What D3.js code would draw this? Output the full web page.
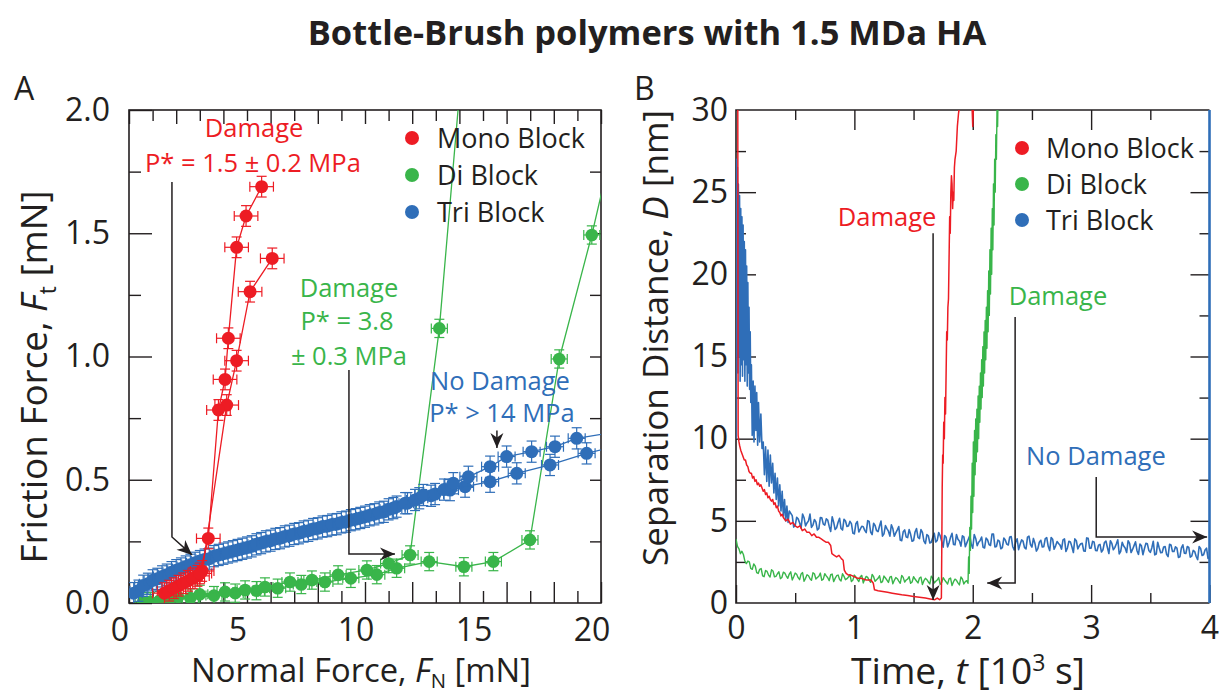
<!DOCTYPE html>
<html><head><meta charset="utf-8">
<script src="https://cdn.jsdelivr.net/npm/d3@7"></script>
<style>
body{margin:0;background:#fff;}
svg{display:block;}
</style></head><body>
<svg id="chart" width="1221" height="695"></svg>
<script>
// ---------------- DATA ----------------
const chartTitle = "Bottle-Brush polymers with 1.5 MDa HA";
const seriesNames = ["Mono Block", "Di Block", "Tri Block"];

// Panel A: tick labels
const aXTicks = [0, 5, 10, 15, 20];
const aYTicks = [0, 0.5, 1.0, 1.5, 2.0];
// Panel B: tick labels
const bXTicks = [0, 1, 2, 3, 4];
const bYTicks = [0, 5, 10, 15, 20, 25, 30];

// Panel A: [normal force mN, friction force mN]
const monoA1 = [[1.5,0.04],[1.9,0.06],[2.3,0.08],[2.7,0.1],[3.0,0.12],[3.36,0.262],[3.79,0.783],[4.07,0.907],[4.21,1.074],[4.56,1.443],[4.96,1.57],[5.62,1.689]];
const monoA2 = [[1.7,0.05],[2.1,0.07],[2.5,0.09],[2.9,0.11],[3.1,0.13],[4.14,0.803],[4.56,0.983],[5.13,1.263],[6.07,1.398]];
const diA1 = [[0.6,0.005],[1.3,0.01],[2.08,0.024],[3.0,0.035],[4.07,0.045],[4.92,0.053],[5.76,0.065],[6.82,0.085],[7.75,0.093],[8.86,0.114],[10.08,0.134],[11.0,0.16],[11.91,0.195],[13.15,1.114],[14.3,2.4]];
const diA2 = [[0.9,0.005],[1.7,0.012],[2.6,0.02],[3.6,0.03],[4.5,0.04],[5.4,0.05],[6.3,0.06],[7.3,0.075],[8.3,0.085],[9.4,0.1],[10.5,0.115],[11.34,0.141],[12.72,0.168],[14.19,0.147],[15.44,0.168],[16.99,0.256],[18.23,0.99],[19.61,1.493],[20.6,1.9]];
const triA1 = [[0.2,0.04],[0.6,0.07],[1.0,0.092],[1.4,0.108],[1.8,0.125],[2.2,0.14],[2.6,0.155],[3.0,0.17],[3.4,0.18],[3.8,0.195],[4.2,0.205],[4.6,0.215],[5.0,0.225],[5.4,0.238],[5.8,0.25],[6.2,0.26],[6.6,0.27],[7.0,0.28],[7.4,0.29],[7.8,0.3],[8.2,0.31],[8.6,0.318],[9.0,0.327],[9.4,0.336],[9.8,0.345],[10.2,0.356],[10.6,0.367],[11.0,0.38],[11.34,0.391],[11.7,0.405],[12.12,0.418],[12.47,0.438],[12.97,0.442],[13.35,0.46],[13.74,0.486],[14.38,0.512],[15.3,0.553],[16.0,0.594],[17.06,0.614],[18.05,0.634],[18.97,0.668],[20.4,0.69]];
const triA2 = [[20.4,0.63],[19.39,0.607],[17.84,0.56],[16.43,0.526],[15.3,0.492],[14.24,0.472],[13.6,0.458],[12.8,0.435],[12.3,0.425],[11.8,0.405],[11.2,0.385],[10.8,0.37],[10.4,0.36],[10.0,0.35],[9.6,0.34],[9.2,0.33],[8.8,0.32],[8.4,0.312],[8.0,0.303],[7.6,0.293],[7.2,0.283],[6.8,0.273],[6.4,0.263],[6.0,0.253],[5.6,0.243],[5.2,0.23],[4.8,0.22],[4.4,0.21],[4.0,0.2],[3.6,0.19],[3.2,0.176],[2.8,0.163],[2.4,0.148],[2.0,0.133],[1.6,0.115],[1.2,0.098],[0.8,0.078],[0.4,0.05]];
// error bar half-widths [x, y] per series
const monoErrA = [0.5, 0.042];
const diErrA = [0.34, 0.037];
const triErrA = [0.36, 0.043];

// Panel B: [time 10^3 s, separation nm]
const monoB = [[0.015,31],[0.018,10.2],[0.025,9.8],[0.03,9.6],[0.04,9.3],[0.05,9.1],[0.06,8.9],[0.07,8.7],[0.08,8.7],[0.09,8.4],[0.1,8.3],[0.11,8.0],[0.12,7.9],[0.13,7.9],[0.14,7.6],[0.15,7.7],[0.16,7.4],[0.17,7.5],[0.18,7.2],[0.19,7.3],[0.2,7.1],[0.21,7.2],[0.22,7.0],[0.23,6.8],[0.24,6.9],[0.25,6.6],[0.26,6.7],[0.27,6.4],[0.28,6.5],[0.29,6.3],[0.3,6.2],[0.31,6.3],[0.32,6.0],[0.33,6.1],[0.34,5.8],[0.35,5.9],[0.36,5.6],[0.37,5.5],[0.38,5.3],[0.39,5.4],[0.4,5.2],[0.42,5.0],[0.44,5.1],[0.46,4.8],[0.48,4.9],[0.5,4.7],[0.52,4.6],[0.54,4.7],[0.56,4.4],[0.58,4.5],[0.6,4.3],[0.62,4.3],[0.64,4.1],[0.66,4.2],[0.68,4.0],[0.7,4.0],[0.72,3.9],[0.74,3.8],[0.76,3.7],[0.78,3.7],[0.8,3.5],[0.81,3.0],[0.83,2.9],[0.85,2.8],[0.87,2.9],[0.89,2.7],[0.905,2.6],[0.915,2.0],[0.93,1.8],[0.95,1.7],[0.97,1.7],[1.0,1.6],[1.03,1.5],[1.06,1.5],[1.1,1.4],[1.14,1.4],[1.16,1.2],[1.17,0.8],[1.2,0.75],[1.24,0.7],[1.28,0.65],[1.32,0.6],[1.36,0.55],[1.4,0.5],[1.45,0.45],[1.5,0.4],[1.55,0.35],[1.6,0.3],[1.64,0.25],[1.68,0.2],[1.7,0.3],[1.72,0.2],[1.735,0.3],[1.738,3],[1.742,7],[1.746,9],[1.75,8.5],[1.755,11],[1.76,10],[1.765,12.5],[1.77,11.5],[1.775,14],[1.78,16.5],[1.785,16],[1.79,18],[1.795,18.5],[1.8,21],[1.805,23.5],[1.81,22.5],[1.815,25],[1.82,26],[1.825,25.5],[1.83,24],[1.835,25],[1.84,24.5],[1.845,26.5],[1.85,27],[1.86,27.5],[1.87,29],[1.88,29.8],[1.89,30.3],[1.9,31],[1.99,31],[2.0,29],[2.01,31]];
const diB = [[0,3.9],[0.025,3.3],[0.05,3.15],[0.075,2.55],[0.1,2.55],[0.125,2.1],[0.15,2.38],[0.175,1.85],[0.2,2.05],[0.225,1.65],[0.25,1.98],[0.275,1.7],[0.3,2.02],[0.325,1.6],[0.35,1.78],[0.375,1.48],[0.4,1.88],[0.425,1.64],[0.45,1.76],[0.475,1.4],[0.5,1.82],[0.525,1.54],[0.55,1.77],[0.575,1.32],[0.6,1.72],[0.625,1.48],[0.65,1.84],[0.675,1.46],[0.7,1.63],[0.725,1.38],[0.75,1.78],[0.775,1.54],[0.8,1.72],[0.825,1.3],[0.85,1.66],[0.875,1.43],[0.9,1.78],[0.925,1.42],[0.95,1.58],[0.975,1.3],[1.0,1.7],[1.025,1.44],[1.05,1.6],[1.075,1.22],[1.1,1.62],[1.125,1.38],[1.15,1.74],[1.175,1.32],[1.2,1.5],[1.225,1.24],[1.25,1.64],[1.275,1.39],[1.3,1.57],[1.325,1.17],[1.35,1.55],[1.375,1.33],[1.4,1.68],[1.425,1.27],[1.45,1.45],[1.475,1.2],[1.5,1.6],[1.525,1.34],[1.55,1.52],[1.575,1.12],[1.6,1.5],[1.625,1.28],[1.65,1.63],[1.675,1.22],[1.7,1.4],[1.725,1.14],[1.75,1.54],[1.775,1.28],[1.8,1.47],[1.825,1.06],[1.85,1.45],[1.875,1.22],[1.9,1.58],[1.925,1.16],[1.95,1.36],[1.96,1.2],[1.965,2.8],[1.97,1.8],[1.975,4.6],[1.98,3.2],[1.985,6.5],[1.99,4.5],[1.995,8.5],[2.0,5.5],[2.005,9.8],[2.01,6.5],[2.015,10.5],[2.02,7.8],[2.025,11.2],[2.03,8.6],[2.035,11.8],[2.04,9.2],[2.045,12.6],[2.05,10.0],[2.055,13.2],[2.06,11.0],[2.065,14.0],[2.07,11.8],[2.075,14.8],[2.08,12.5],[2.085,15.6],[2.09,13.2],[2.095,16.5],[2.1,14.0],[2.105,17.2],[2.11,14.8],[2.115,18.0],[2.12,15.5],[2.125,19.0],[2.13,16.5],[2.135,20.2],[2.14,17.5],[2.145,21.5],[2.15,18.8],[2.155,22.8],[2.16,20.0],[2.165,24.0],[2.17,21.5],[2.175,25.5],[2.18,23.0],[2.185,27.0],[2.19,25.0],[2.195,28.5],[2.2,27.0],[2.205,30.2],[2.21,29.0],[2.215,31.5]];
// extra readings of the Di Block trace between the samples above
const diBmid = [[0.0125,3.45],[0.0375,3.0],[0.0625,2.95],[0.0875,2.4],[0.1125,2.5],[0.1375,2.05],[0.1625,2.25],[0.1875,1.8],[0.2125,2.1],[0.2375,1.6],[0.2625,1.92],[0.2875,1.58],[0.3125,1.95],[0.3375,1.62],[0.3625,1.9],[0.3875,1.55],[0.4125,1.82],[0.4375,1.5],[0.4625,1.9],[0.4875,1.6],[0.5125,1.75],[0.5375,1.42],[0.5625,1.85],[0.5875,1.5],[0.6125,1.66],[0.6375,1.38],[0.6625,1.78],[0.6875,1.55],[0.7125,1.82],[0.7375,1.45],[0.7625,1.65],[0.7875,1.36],[0.8125,1.76],[0.8375,1.5],[0.8625,1.7],[0.8875,1.34],[0.9125,1.62],[0.9375,1.48],[0.9625,1.72],[0.9875,1.4],[1.0125,1.58],[1.0375,1.3],[1.0625,1.68],[1.0875,1.44],[1.1125,1.56],[1.1375,1.26],[1.1625,1.6],[1.1875,1.42],[1.2125,1.66],[1.2375,1.3],[1.2625,1.52],[1.2875,1.25],[1.3125,1.62],[1.3375,1.38],[1.3625,1.48],[1.3875,1.2],[1.4125,1.56],[1.4375,1.4],[1.4625,1.6],[1.4875,1.28],[1.5125,1.46],[1.5375,1.22],[1.5625,1.58],[1.5875,1.36],[1.6125,1.42],[1.6375,1.16],[1.6625,1.5],[1.6875,1.32],[1.7125,1.55],[1.7375,1.24],[1.7625,1.4],[1.7875,1.15],[1.8125,1.52],[1.8375,1.3],[1.8625,1.38],[1.8875,1.1],[1.9125,1.46],[1.9375,1.3]];
const triB = [[0.0,10],[0.004,27],[0.008,15],[0.012,26.5],[0.016,14],[0.02,25.5],[0.025,15],[0.03,24.8],[0.035,13.5],[0.04,24],[0.045,14.5],[0.05,23.5],[0.055,13.8],[0.06,23],[0.065,14.8],[0.07,22],[0.075,13.5],[0.08,21.5],[0.085,14.5],[0.09,20.5],[0.095,13.2],[0.1,19.5],[0.105,14],[0.11,18],[0.115,13],[0.12,16.5],[0.125,12.2],[0.13,14.5],[0.137,10.2],[0.145,13.5],[0.152,9.8],[0.16,13.2],[0.168,10.5],[0.175,12.8],[0.183,9.6],[0.19,12.2],[0.2,9.8],[0.21,11.5],[0.22,9.4],[0.23,9.8],[0.24,7.8],[0.25,9.5],[0.26,7.4],[0.27,9.3],[0.28,7.1],[0.29,9.0],[0.3,7.3],[0.31,8.5],[0.32,6.7],[0.33,7.9],[0.34,6.3],[0.35,7.6],[0.36,5.9],[0.37,7.2],[0.38,5.6],[0.39,6.8],[0.4,5.3],[0.41,6.3],[0.42,5.0],[0.43,5.9],[0.44,4.9],[0.45,5.6],
[0.475,5.32],[0.5,4.72],[0.525,5.12],[0.55,4.57],[0.575,5.19],[0.6,4.87],[0.625,5.41],[0.65,4.74],[0.675,4.94],[0.7,4.54],[0.725,5.18],[0.75,4.74],[0.775,5.04],[0.8,4.35],[0.825,4.92],[0.85,4.58],[0.875,5.16],[0.9,4.44],[0.925,4.99],[0.95,4.68],[0.975,4.83],[1.0,4.21],[1.025,4.96],[1.05,4.49],[1.075,4.64],[1.1,4.28],[1.125,4.96],[1.15,4.16],[1.175,4.72],[1.2,4.34],[1.225,4.99],[1.25,4.21],[1.275,4.53],[1.3,4.07],[1.325,4.53],[1.35,4.27],[1.375,4.65],[1.4,3.79],[1.425,4.45],[1.45,3.98],[1.475,4.18],[1.5,3.8],[1.525,4.53],[1.55,3.92],[1.575,4.3],[1.6,3.61],[1.625,4.09],[1.65,3.7],[1.675,4.24],[1.7,3.81],[1.725,4.09],[1.75,3.4],[1.775,4.0],[1.8,3.67],[1.825,4.24],[1.85,3.54],[1.875,3.88],[1.9,3.46],[1.925,4.02],[1.95,3.66],[1.975,4.11],[2.0,3.33],[2.025,3.93],[2.05,3.7],[2.075,4.01],[2.1,3.35],[2.125,3.85],[2.15,3.5],[2.175,4.2],[2.2,3.44],[2.225,3.77],[2.25,3.37],[2.275,3.84],[2.3,3.53],[2.325,4.04],[2.35,3.23],[2.375,3.91],[2.4,3.58],[2.425,3.76],[2.45,3.29],[2.475,4.07],[2.5,3.4],[2.525,3.64],[2.55,3.31],[2.575,3.82],[2.6,3.43],[2.625,3.98],[2.65,3.19],[2.675,3.88],[2.7,3.48],[2.725,3.62],[2.75,3.28],[2.775,3.9],[2.8,3.35],[2.825,3.72],[2.85,3.07],[2.875,3.79],[2.9,3.48],[2.925,3.63],[2.95,3.15],[2.975,3.94],[3.0,3.34],[3.025,3.71],[3.05,3.18],[3.075,3.57],[3.1,3.24],[3.125,3.77],[3.15,3.01],[3.175,3.63],[3.2,3.37],[3.225,3.85],[3.25,3.15],[3.275,3.47],[3.3,3.07],[3.325,3.63],[3.35,3.26],[3.375,3.72],[3.4,2.96],[3.425,3.48],[3.45,3.3],[3.475,3.6],[3.5,3.08],[3.525,3.76],[3.55,2.98],[3.575,3.36],[3.6,3.07],[3.625,3.44],[3.65,2.82],[3.675,3.53],[3.7,3.14],[3.725,3.34],[3.75,2.81],[3.775,3.54],[3.8,3.01],[3.825,3.38],[3.85,2.85],[3.875,3.13],[3.9,2.64],[3.925,3.32],[3.95,2.93],[3.975,3.34],[4.0,2.8]];
// extra readings of the Tri Block trace between the samples above
const triBmid = [[0.4875,4.62],[0.5125,5.21],[0.5375,4.87],[0.5625,5.42],[0.5875,4.69],[0.6125,5.0],[0.6375,4.6],[0.6625,5.08],[0.6875,4.44],[0.7125,5.2],[0.7375,4.8],[0.7625,5.12],[0.7875,4.66],[0.8125,5.25],[0.8375,4.47],[0.8625,4.91],[0.8875,4.53],[0.9125,5.1],[0.9375,4.66],[0.9625,4.97],[0.9875,4.25],[1.0125,4.82],[1.0375,4.32],[1.0625,4.67],[1.0875,4.42],[1.1125,5.01],[1.1375,4.32],[1.1625,4.85],[1.1875,4.4],[1.2125,4.69],[1.2375,4.07],[1.2625,4.71],[1.2875,4.37],[1.3125,4.76],[1.3375,4.06],[1.3625,4.45],[1.3875,3.83],[1.4125,4.33],[1.4375,4.02],[1.4625,4.47],[1.4875,3.76],[1.5125,4.32],[1.5375,3.99],[1.5625,4.47],[1.5875,3.76],[1.6125,4.16],[1.6375,3.65],[1.6625,4.0],[1.6875,3.71],[1.7125,4.29],[1.7375,3.76],[1.7625,4.11],[1.7875,3.41],[1.8125,4.0],[1.8375,3.56],[1.8625,4.17],[1.8875,3.77],[1.9125,4.09],[1.9375,3.42],[1.9625,3.88],[1.9875,3.57],[2.0125,4.17],[2.0375,3.49],[2.0625,3.81],[2.0875,3.39],[2.1125,3.95],[2.1375,3.56],[2.1625,4.19],[2.1875,3.41],[2.2125,3.83],[2.2375,3.3],[2.2625,3.95],[2.2875,3.58],[2.3125,4.02],[2.3375,3.44],[2.3625,3.7],[2.3875,3.25],[2.4125,3.84],[2.4375,3.37],[2.4625,4.01],[2.4875,3.56],[2.5125,3.93],[2.5375,3.16],[2.5625,3.7],[2.5875,3.41],[2.6125,3.92],[2.6375,3.45],[2.6625,3.99],[2.6875,3.27],[2.7125,3.74],[2.7375,3.52],[2.7625,3.84],[2.7875,3.13],[2.8125,3.76],[2.8375,3.42],[2.8625,3.9],[2.8875,3.29],[2.9125,3.61],[2.9375,3.17],[2.9625,3.96],[2.9875,3.34],[3.0125,3.75],[3.0375,3.2],[3.0625,3.52],[3.0875,3.1],[3.1125,3.68],[3.1375,3.38],[3.1625,3.79],[3.1875,3.24],[3.2125,3.59],[3.2375,2.99],[3.2625,3.69],[3.2875,3.35],[3.3125,3.79],[3.3375,3.07],[3.3625,3.49],[3.3875,3.18],[3.4125,3.59],[3.4375,2.94],[3.4625,3.63],[3.4875,3.2],[3.5125,3.35],[3.5375,2.93],[3.5625,3.7],[3.5875,3.06],[3.6125,3.41],[3.6375,2.96],[3.6625,3.57],[3.6875,3.13],[3.7125,3.42],[3.7375,2.77],[3.7625,3.35],[3.7875,3.03],[3.8125,3.44],[3.8375,2.79],[3.8625,3.2],[3.8875,2.83],[3.9125,3.44],[3.9375,2.89],[3.9625,3.22],[3.9875,2.71]];

// ---------------- DRAWING ----------------
const FONT = '"Open Sans", "Noto Sans", sans-serif';
const INK = "#231f20";
const COL = ["#ed1c24", "#39b54a", "#2f6eb8"];

const svg = d3.select("#chart").attr("font-family", FONT);
const defs = svg.append("defs");
defs.append("marker").attr("id", "ah").attr("viewBox", "-16 -8 17 16")
  .attr("refX", 0).attr("refY", 0).attr("markerWidth", 17).attr("markerHeight", 16)
  .attr("markerUnits", "userSpaceOnUse").attr("orient", "auto")
  .append("path").attr("d", "M0,0 L-15,-6.5 L-10.5,0 L-15,6.5 Z").attr("fill", INK);

function fit(sel, target) {
  const w = sel.node().getComputedTextLength();
  const fs = parseFloat(sel.attr("font-size"));
  sel.attr("font-size", fs * target / w);
}

// Title
const title = svg.append("text").attr("x", 647).attr("y", 45).attr("text-anchor", "middle")
  .attr("font-weight", 700).attr("font-size", 30).attr("fill", INK).text(chartTitle);
fit(title, 679);

// Panel letters
svg.append("text").attr("x", 14).attr("y", 100).attr("font-size", 32).attr("fill", INK).text("A");
svg.append("text").attr("x", 634).attr("y", 100).attr("font-size", 32).attr("fill", INK).text("B");

// ---------- helpers ----------
function tickSet(g, axisFn, scale, values, len, transform) {
  const a = g.append("g").attr("transform", transform)
    .call(axisFn(scale).tickValues(values).tickSize(-len).tickFormat(""));
  a.select(".domain").remove();
  a.selectAll("line").attr("stroke", INK).attr("stroke-width", 1.4);
}
function labelSet(g, axisFn, scale, values, fmt, pad, transform, dx) {
  const a = g.append("g").attr("transform", transform)
    .call(axisFn(scale).tickValues(values).tickSize(0).tickPadding(pad).tickFormat(fmt));
  a.select(".domain").remove();
  a.attr("font-size", 32).attr("font-family", FONT);
  a.selectAll("text").attr("fill", INK).attr("dx", dx || 0);
}

// ================= PANEL A =================
const xA = d3.scaleLinear().domain([0, 20]).range([129, 601]);
const yA = d3.scaleLinear().domain([0, 2]).range([603, 110]);
defs.append("clipPath").attr("id", "clipA").append("rect")
  .attr("x", xA(0)).attr("y", yA(2)).attr("width", xA(20) - xA(0)).attr("height", yA(0) - yA(2));

const gA = svg.append("g");
tickSet(gA, d3.axisBottom, xA, d3.range(0, 21, 2), 21, `translate(0,${yA(0)})`);
tickSet(gA, d3.axisBottom, xA, d3.range(1, 20, 2), 12, `translate(0,${yA(0)})`);
tickSet(gA, d3.axisTop, xA, d3.range(0, 21, 2), 14, `translate(0,${yA(2)})`);
tickSet(gA, d3.axisTop, xA, d3.range(1, 20, 2), 11, `translate(0,${yA(2)})`);
tickSet(gA, d3.axisLeft, yA, [0, 0.5, 1, 1.5, 2], 23, `translate(${xA(0)},0)`);
tickSet(gA, d3.axisLeft, yA, [0.25, 0.75, 1.25, 1.75], 12, `translate(${xA(0)},0)`);
tickSet(gA, d3.axisRight, yA, [0.25, 0.5, 0.75, 1, 1.25, 1.5, 1.75], 11, `translate(${xA(20)},0)`);
labelSet(gA, d3.axisBottom, xA, aXTicks, d3.format("d"), 15, `translate(0,${yA(0)})`, -9.5);
labelSet(gA, d3.axisLeft, yA, aYTicks, d3.format(".1f"), 19, `translate(${xA(0)},0)`);

gA.append("rect").attr("x", xA(0)).attr("y", yA(2)).attr("width", xA(20) - xA(0))
  .attr("height", yA(0) - yA(2)).attr("fill", "none").attr("stroke", INK).attr("stroke-width", 1.6);

// axis titles A
const xtA = svg.append("text").attr("x", 361).attr("y", 682).attr("text-anchor", "middle")
  .attr("font-size", 32).attr("fill", INK);
xtA.append("tspan").text("Normal Force, ");
xtA.append("tspan").attr("font-style", "italic").text("F");
xtA.append("tspan").attr("font-size", "0.62em").attr("dy", "0.3em").text("N");
xtA.append("tspan").attr("dy", "-0.19em").text(" [mN]");
fit(xtA, 340);

const ytA = svg.append("text").attr("transform", "translate(47,377) rotate(-90)")
  .attr("text-anchor", "middle").attr("font-size", 32).attr("fill", INK);
ytA.append("tspan").text("Friction Force, ");
ytA.append("tspan").attr("font-style", "italic").text("F");
ytA.append("tspan").attr("font-size", "0.62em").attr("dy", "0.4em").text("t");
ytA.append("tspan").attr("dy", "-0.25em").text(" [mN]");
fit(ytA, 373);

// series A
const plotA = svg.append("g").attr("clip-path", "url(#clipA)");
const lineA = d3.line().x(d => xA(d[0])).y(d => yA(d[1]));
function drawErrSeries(g, data, color, err, r) {
  g.append("path").datum(data).attr("d", lineA).attr("fill", "none")
    .attr("stroke", color).attr("stroke-width", 1.3);
  const p = g.append("g").attr("stroke", color).attr("stroke-width", 1.2)
    .selectAll("g").data(data).join("g");
  const cap = 5;
  p.append("line").attr("x1", d => xA(d[0] - err[0])).attr("x2", d => xA(d[0] + err[0]))
    .attr("y1", d => yA(d[1])).attr("y2", d => yA(d[1]));
  p.append("line").attr("x1", d => xA(d[0])).attr("x2", d => xA(d[0]))
    .attr("y1", d => yA(d[1] - err[1])).attr("y2", d => yA(d[1] + err[1]));
  [-1, 1].forEach(s => {
    p.append("line").attr("x1", d => xA(d[0] + s * err[0])).attr("x2", d => xA(d[0] + s * err[0]))
      .attr("y1", d => yA(d[1]) - cap).attr("y2", d => yA(d[1]) + cap);
    p.append("line").attr("y1", d => yA(d[1] + s * err[1])).attr("y2", d => yA(d[1] + s * err[1]))
      .attr("x1", d => xA(d[0]) - cap).attr("x2", d => xA(d[0]) + cap);
  });
  p.append("circle").attr("cx", d => xA(d[0])).attr("cy", d => yA(d[1])).attr("r", r)
    .attr("fill", color).attr("stroke", "none");
}
drawErrSeries(plotA, diA2, COL[1], diErrA, 6.3);
drawErrSeries(plotA, diA1, COL[1], diErrA, 6.3);
drawErrSeries(plotA, triA2, COL[2], triErrA, 6.5);
drawErrSeries(plotA, triA1, COL[2], triErrA, 6.5);
drawErrSeries(plotA, monoA2, COL[0], monoErrA, 6.5);
drawErrSeries(plotA, monoA1, COL[0], monoErrA, 6.5);

// legend A
seriesNames.forEach((n, i) => {
  svg.append("circle").attr("cx", 412).attr("cy", 138 + i * 37).attr("r", 7).attr("fill", COL[i]);
  svg.append("text").attr("x", 437).attr("y", 148 + i * 37).attr("font-size", 27).attr("fill", INK).text(n);
});

// annotations A
function annText(x, y, txt, color) {
  svg.append("text").attr("x", x).attr("y", y).attr("text-anchor", "middle")
    .attr("font-size", 25.5).attr("fill", color).text(txt);
}
function arrow(pts) {
  svg.append("path").attr("d", d3.line()(pts)).attr("fill", "none").attr("stroke", INK)
    .attr("stroke-width", 1.5).attr("marker-end", "url(#ah)");
}
annText(xA(5.3), yA(1.89), "Damage", COL[0]);
annText(xA(5.25), yA(1.748), "P* = 1.5 ± 0.2 MPa", COL[0]);
arrow([[xA(1.82), yA(1.708)], [xA(1.82), yA(0.268)], [xA(2.67), yA(0.195)]]);
annText(xA(9.32), yA(1.241), "Damage", COL[1]);
annText(xA(9.24), yA(1.107), "P* = 3.8", COL[1]);
annText(xA(9.32), yA(0.966), "± 0.3 MPa", COL[1]);
arrow([[xA(9.32), yA(0.945)], [xA(9.32), yA(0.199)], [xA(11.27), yA(0.199)]]);
annText(xA(15.72), yA(0.864), "No Damage", COL[2]);
annText(xA(15.8), yA(0.734), "P* > 14 MPa", COL[2]);
arrow([[xA(15.59), yA(0.7)], [xA(15.59), yA(0.629)]]);

// ================= PANEL B =================
const xB = d3.scaleLinear().domain([0, 4]).range([736, 1209.5]);
const yB = d3.scaleLinear().domain([0, 30]).range([603, 110]);
defs.append("clipPath").attr("id", "clipB").append("rect")
  .attr("x", xB(0)).attr("y", yB(30)).attr("width", xB(4) - xB(0)).attr("height", yB(0) - yB(30));

const gB = svg.append("g");
tickSet(gB, d3.axisBottom, xB, [0, 1, 2, 3, 4], 18, `translate(0,${yB(0)})`);
tickSet(gB, d3.axisBottom, xB, [0.5, 1.5, 2.5, 3.5], 10, `translate(0,${yB(0)})`);
tickSet(gB, d3.axisTop, xB, [1, 2, 3], 20, `translate(0,${yB(30)})`);
tickSet(gB, d3.axisTop, xB, [0.5, 1.5, 2.5, 3.5], 10, `translate(0,${yB(30)})`);
tickSet(gB, d3.axisLeft, yB, [5, 10, 15, 20, 25], 20, `translate(${xB(0)},0)`);
tickSet(gB, d3.axisLeft, yB, [2.5, 7.5, 12.5, 17.5, 22.5, 27.5], 10, `translate(${xB(0)},0)`);
tickSet(gB, d3.axisRight, yB, [5, 10, 15, 20, 25], 19, `translate(${xB(4)},0)`);
tickSet(gB, d3.axisRight, yB, [2.5, 7.5, 12.5, 17.5, 22.5, 27.5], 10, `translate(${xB(4)},0)`);
labelSet(gB, d3.axisBottom, xB, bXTicks, d3.format("d"), 13, `translate(0,${yB(0)})`);
labelSet(gB, d3.axisLeft, yB, bYTicks, d3.format("d"), 8, `translate(${xB(0)},0)`);

gB.append("path").attr("d", d3.line()([[xB(4), yB(30)], [xB(0), yB(30)], [xB(0), yB(0)], [xB(4), yB(0)]]))
  .attr("fill", "none").attr("stroke", INK).attr("stroke-width", 1.6);
gB.append("line").attr("x1", xB(4)).attr("x2", xB(4)).attr("y1", yB(30)).attr("y2", yB(0))
  .attr("stroke", COL[2]).attr("stroke-width", 2.6);

// axis titles B
const xtB = svg.append("text").attr("x", 968).attr("y", 684).attr("text-anchor", "middle")
  .attr("font-size", 32).attr("fill", INK);
xtB.append("tspan").text("Time, ");
xtB.append("tspan").attr("font-style", "italic").text("t");
xtB.append("tspan").text(" [10");
xtB.append("tspan").attr("font-size", "0.62em").attr("dy", "-0.55em").text("3");
xtB.append("tspan").attr("dy", "0.34em").text(" s]");
fit(xtB, 234);

const ytB = svg.append("text").attr("transform", "translate(668,338) rotate(-90)")
  .attr("text-anchor", "middle").attr("font-size", 32).attr("fill", INK);
ytB.append("tspan").text("Separation Distance, ");
ytB.append("tspan").attr("font-style", "italic").text("D");
ytB.append("tspan").text(" [nm]");
fit(ytB, 456);

// series B
const byT = (a, b) => d3.sort(a.concat(b), d => d[0]);
const triBall = byT(triB, triBmid);
const diBall = byT(diB, diBmid);
const plotB = svg.append("g").attr("clip-path", "url(#clipB)");
const lineB = d3.line().x(d => xB(d[0])).y(d => yB(d[1]));
plotB.append("path").datum(triBall).attr("d", lineB).attr("fill", "none").attr("stroke", COL[2]).attr("stroke-width", 1.6).attr("stroke-linejoin", "round");
plotB.append("path").datum(diBall).attr("d", lineB).attr("fill", "none").attr("stroke", COL[1]).attr("stroke-width", 1.4).attr("stroke-linejoin", "round");
plotB.append("path").datum(monoB).attr("d", lineB).attr("fill", "none").attr("stroke", COL[0]).attr("stroke-width", 1.5).attr("stroke-linejoin", "round");

// legend B
seriesNames.forEach((n, i) => {
  svg.append("circle").attr("cx", 1022).attr("cy", 148 + i * 36).attr("r", 7).attr("fill", COL[i]);
  svg.append("text").attr("x", 1046).attr("y", 158 + i * 36).attr("font-size", 27).attr("fill", INK).text(n);
});

// annotations B
annText(xB(1.276), yB(22.95), "Damage", COL[0]);
arrow([[xB(1.665), yB(22.5)], [xB(1.665), yB(0.18)]]);
annText(xB(2.72), yB(18.14), "Damage", COL[1]);
arrow([[xB(2.358), yB(17.4)], [xB(2.358), yB(1.22)], [xB(2.122), yB(1.22)]]);
annText(xB(3.04), yB(8.4), "No Damage", COL[2]);
arrow([[xB(3.043), yB(7.67)], [xB(3.043), yB(4.02)], [xB(3.98), yB(4.02)]]);
</script></body></html>
